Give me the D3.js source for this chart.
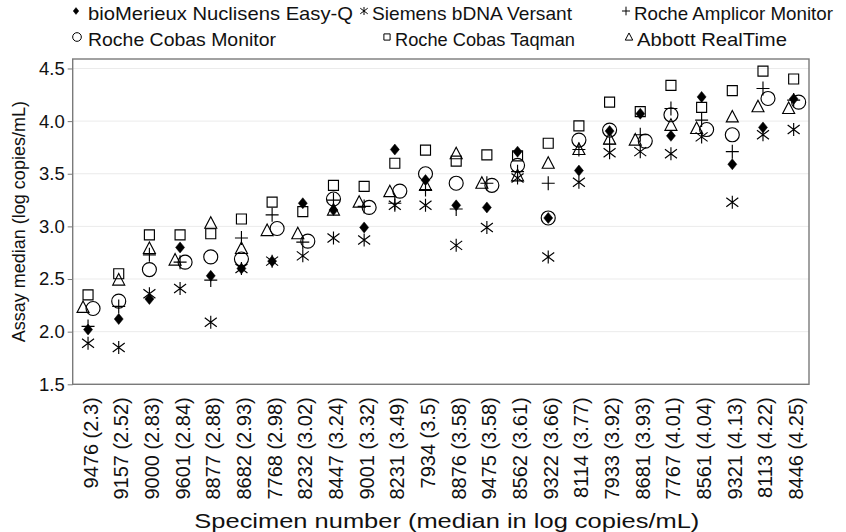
<!DOCTYPE html>
<html>
<head>
<meta charset="utf-8">
<script src="https://cdn.jsdelivr.net/npm/d3@7"></script>
<style>
  body { margin: 0; background: #fff; }
  text { font-family: 'Liberation Sans', Arial, sans-serif; fill: #111; }
</style>
</head>
<body>
<div id="chart"></div>
<script>
// Specimens and their median (log copies/mL)
const specimens = ['9476', '9157', '9000', '9601', '8877', '8682', '7768', '8232', '8447', '9001', '8231', '7934',
  '8876', '9475', '8562', '9322', '8114', '7933', '8681', '7767', '8561', '9321', '8113', '8446']
const medians = ['2.3', '2.52', '2.83', '2.84', '2.88', '2.93', '2.98', '3.02', '3.24', '3.32', '3.49', '3.5',
  '3.58', '3.58', '3.61', '3.66', '3.77', '3.92', '3.93', '4.01', '4.04', '4.13', '4.22', '4.25']

// assay medians per platform
const bioMerieux = [2.02, 2.12, 2.31, 2.80, 2.53, 2.60, 2.67, 3.22, 3.155, 2.99, 3.73, 3.44,
  3.20, 3.18, 3.71, 3.08, 3.53, 3.905, 4.07, 3.86, 4.23, 3.59, 3.94, 4.21]
const siemens = [1.89, 1.85, 2.36, 2.41, 2.09, 2.60, 2.67, 2.72, 2.89, 2.87, 3.20, 3.20,
  2.82, 2.99, 3.46, 2.71, 3.42, 3.70, 3.71, 3.69, 3.85, 3.23, 3.87, 3.92]
const amplicor = [2.05, 2.24, 2.73, 2.66, 2.49, 2.89, 3.11, 2.85, 3.25, 3.19, 3.22, 3.35,
  3.165, 3.41, 3.52, 3.41, 3.73, 3.78, 3.87, 4.12, 4.01, 3.71, 4.31, 4.20]
const cobasMonitor = [2.22, 2.29, 2.59, 2.66, 2.71, 2.69, 2.98, 2.86, 3.26, 3.18, 3.335, 3.50,
  3.41, 3.39, 3.58, 3.08, 3.82, 3.915, 3.81, 4.06, 3.92, 3.87, 4.215, 4.18]
const taqman = [2.35, 2.55, 2.92, 2.92, 2.93, 3.07, 3.23, 3.14, 3.39, 3.38, 3.60, 3.725,
  3.62, 3.68, 3.67, 3.79, 3.955, 4.18, 4.09, 4.34, 4.13, 4.29, 4.475, 4.40]
const abbott = [2.23, 2.49, 2.79, 2.68, 3.03, 2.79, 2.96, 2.93, 3.155, 3.23, 3.33, 3.39,
  3.69, 3.41, 3.48, 3.60, 3.73, 3.83, 3.82, 3.96, 3.93, 4.04, 4.136, 4.12]

const yTicks = [1.5, 2.0, 2.5, 3.0, 3.5, 4.0, 4.5]

// Our canvas
const width = 846,
  height = 532
const plot = { left: 72.7, right: 809, top: 59, bottom: 384.3 }

// marker shapes
const shapes = {
  diamond: s => `M0,${-5.5 * s}L${4.5 * s},0L0,${5.5 * s}L${-4.5 * s},0Z`,
  asterisk: s => `M0,${-6.5 * s}V${6.5 * s}M${-6 * s},${-4.5 * s}L${6 * s},${4.5 * s}M${-6 * s},${4.5 * s}L${6 * s},${-4.5 * s}`,
  plus: s => `M0,${-7 * s}V${7 * s}M${-6.5 * s},0H${6.5 * s}`,
  circle: s => `M${7 * s},0A${7 * s},${7 * s} 0 1,1 ${-7 * s},0A${7 * s},${7 * s} 0 1,1 ${7 * s},0Z`,
  square: s => `M${-5 * s},${-5 * s}h${10 * s}v${10 * s}h${-10 * s}Z`,
  triangle: s => `M0,${-6.5 * s}L${6 * s},${5 * s}L${-6 * s},${5 * s}Z`
}

const series = [
  { name: 'bioMerieux Nuclisens Easy-Q', values: bioMerieux, shape: 'diamond', filled: true },
  { name: 'Siemens bDNA Versant', values: siemens, shape: 'asterisk' },
  { name: 'Roche Amplicor Monitor', values: amplicor, shape: 'plus' },
  { name: 'Roche Cobas Monitor', values: cobasMonitor, shape: 'circle' },
  { name: 'Roche Cobas Taqman', values: taqman, shape: 'square' },
  { name: 'Abbott RealTime', values: abbott, shape: 'triangle' }
]

let svg = d3.select('#chart')
  .append('svg')
  .attr('width', width)
  .attr('height', height)

const xScale = d3.scalePoint()
  .domain(specimens)
  .range([plot.left, plot.right])
  .padding(0.5)

const yScale = d3.scaleLinear()
  .domain([1.5, 4.59])
  .range([plot.bottom, plot.top])

// gridlines
svg.append('g')
  .selectAll('line')
  .data(yTicks)
  .enter()
  .append('line')
  .attr('x1', plot.left)
  .attr('x2', plot.right)
  .attr('y1', d => yScale(d))
  .attr('y2', d => yScale(d))
  .attr('stroke', '#ebebeb')
  .attr('stroke-width', 1)

// frame
svg.append('rect')
  .attr('x', plot.left)
  .attr('y', plot.top)
  .attr('width', plot.right - plot.left)
  .attr('height', plot.bottom - plot.top)
  .attr('fill', 'none')
  .attr('stroke', '#7a7a7a')
  .attr('stroke-width', 1.4)

// y axis
const yAxis = d3.axisLeft(yScale)
  .tickValues(yTicks)
  .tickFormat(d3.format('.1f'))
  .tickSize(5)
  .tickPadding(3)

let yAxisGroup = svg.append('g')
  .attr('transform', `translate(${plot.left}, 0)`)
  .call(yAxis)
yAxisGroup.select('.domain').remove()
yAxisGroup.selectAll('line').attr('stroke', '#7a7a7a')
yAxisGroup.selectAll('text')
  .style('font-size', '18.5px')
  .style('font-family', 'Liberation Sans, Arial, sans-serif')
  .attr('fill', '#111')

// x axis, rotated labels
const xAxis = d3.axisBottom(xScale)
  .tickSize(0)
  .tickFormat((d, i) => `${d} (${medians[i]})`)

let xAxisGroup = svg.append('g')
  .attr('transform', `translate(0, ${plot.bottom})`)
  .call(xAxis)
xAxisGroup.select('.domain').remove()
xAxisGroup.selectAll('text')
  .style('font-size', '20px')
  .style('font-family', 'Liberation Sans, Arial, sans-serif')
  .attr('fill', '#111')
  .attr('text-anchor', 'end')
  .attr('transform', 'rotate(-90)')
  .attr('x', -13)
  .attr('y', 2)
  .attr('dy', '0.35em')

// axis titles
svg.append('text')
  .attr('x', (plot.left + plot.right) / 2 + 6)
  .attr('y', 528)
  .attr('text-anchor', 'middle')
  .attr('textLength', 505)
  .attr('lengthAdjust', 'spacingAndGlyphs')
  .style('font-size', '21px')
  .text('Specimen number (median in log copies/mL)')

svg.append('text')
  .attr('transform', `translate(25, ${(plot.top + plot.bottom) / 2}) rotate(-90)`)
  .attr('text-anchor', 'middle')
  .style('font-size', '18px')
  .text('Assay median (log copies/mL)')

// small dodge when circle and triangle overlap
const dodge = (s, i) => {
  const close = Math.abs(cobasMonitor[i] - abbott[i]) < 0.08
  if (!close) return 0
  if (s.shape === 'circle') return 5
  if (s.shape === 'triangle') return -5
  return 0
}

// markers
series.forEach(s => {
  svg.append('g')
    .selectAll('path')
    .data(s.values)
    .enter()
    .append('path')
    .attr('transform', (d, i) => `translate(${xScale(specimens[i]) + dodge(s, i)}, ${yScale(d)})`)
    .attr('d', shapes[s.shape](1))
    .attr('fill', s.filled ? '#000' : 'none')
    .attr('stroke', '#000')
    .attr('stroke-width', s.filled ? 0.5 : 1.15)
})

// legend: marker x, text x, text width
const legendItems = [
  { mx: 76, tx: 88, w: 265 }, { mx: 364, tx: 372, w: 200 }, { mx: 626, tx: 634, w: 199 },
  { mx: 77, tx: 88, w: 188 }, { mx: 387, tx: 395, w: 180 }, { mx: 629, tx: 637, w: 150 }
]
const legendRows = [20, 46]
const legend = svg.append('g')
  .selectAll('g')
  .data(series)
  .enter()
  .append('g')
  .attr('transform', (d, i) => `translate(0, ${legendRows[Math.floor(i / 3)]})`)

legend.append('path')
  .attr('transform', (d, i) => `translate(${legendItems[i].mx}, -9)`)
  .attr('d', d => shapes[d.shape](0.62))
  .attr('fill', d => d.filled ? '#000' : 'none')
  .attr('stroke', '#000')
  .attr('stroke-width', d => d.filled ? 0.5 : 1)

legend.append('text')
  .attr('x', (d, i) => legendItems[i].tx)
  .attr('textLength', (d, i) => legendItems[i].w)
  .attr('lengthAdjust', 'spacingAndGlyphs')
  .style('font-size', '19px')
  .text(d => d.name)
</script>
</body>
</html>
